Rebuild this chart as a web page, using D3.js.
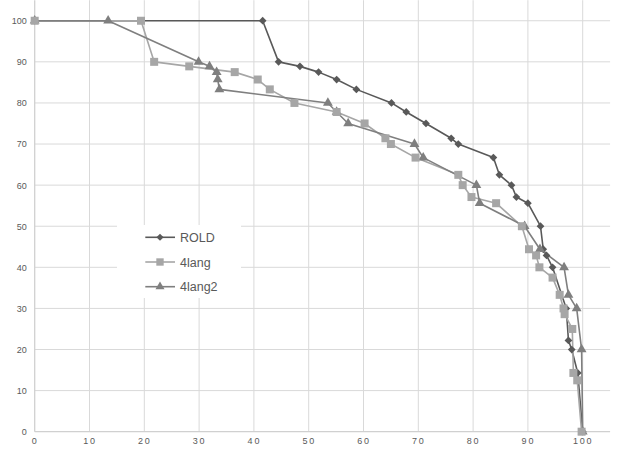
<!DOCTYPE html>
<html><head><meta charset="utf-8">
<script src="https://cdn.jsdelivr.net/npm/d3@7"></script>
<style>
html,body{margin:0;padding:0;background:#fff;}
svg{display:block;}
</style>
</head><body>
<svg id="chart" width="617" height="450"></svg>
<script>
const seriesNames = ["ROLD", "4lang", "4lang2"];
const roldX = [0, 41.6, 44.5, 48.4, 51.8, 55.1, 58.7, 65.1, 67.8, 71.4, 76.0, 77.3, 83.7, 84.8, 87.0, 87.9, 90.0, 92.3, 92.8, 93.4, 94.5, 97.0, 97.4, 98.0, 99.1, 100];
const roldY = [100, 100, 90, 88.9, 87.5, 85.7, 83.3, 80, 77.8, 75, 71.4, 70, 66.7, 62.5, 60, 57.1, 55.6, 50, 44.4, 42.9, 40, 30, 22.2, 20, 14.3, 0];
const lang4X = [0, 19.4, 21.8, 28.2, 36.5, 40.7, 42.9, 47.4, 55.1, 60.2, 64.0, 65.0, 69.5, 77.3, 78.1, 79.7, 84.2, 88.9, 90.2, 91.5, 92.1, 94.5, 95.8, 96.5, 96.7, 98.1, 98.3, 99.0, 99.8];
const lang4Y = [100, 100, 90, 88.9, 87.5, 85.7, 83.3, 80, 77.8, 75, 71.4, 70, 66.7, 62.5, 60, 57.1, 55.6, 50, 44.4, 42.9, 40, 37.5, 33.3, 30, 28.6, 25, 14.3, 12.5, 0];
const lang42X = [0, 13.4, 29.9, 31.9, 33.2, 33.4, 33.7, 53.5, 55.1, 57.2, 69.3, 70.9, 80.6, 81.2, 89.4, 92.2, 96.6, 97.4, 98.9, 99.8, 100];
const lang42Y = [100, 100, 90, 88.9, 87.5, 85.7, 83.3, 80, 77.8, 75, 70, 66.7, 60, 55.6, 50, 44.4, 40, 33.3, 30, 20, 0];
const xTicks = [0, 10, 20, 30, 40, 50, 60, 70, 80, 90, 100];
const yTicks = [0, 10, 20, 30, 40, 50, 60, 70, 80, 90, 100];

const svg = d3.select("#chart");
const pLeft = 34.7, pRight = 610.1, pTop = 0.2, pBottom = 431.7;
const x = d3.scaleLinear().domain([0, 105]).range([pLeft, pRight]);
const y = d3.scaleLinear().domain([0, 105]).range([pBottom, pTop]);

// gridlines
const grid = svg.append("g");
grid.selectAll(".gx").data(xTicks.filter(d => d > 0)).enter().append("line")
  .attr("x1", d => x(d)).attr("x2", d => x(d)).attr("y1", y(0)).attr("y2", pTop)
  .attr("stroke", "#d9d9d9").attr("stroke-width", 1);
grid.selectAll(".gy").data(yTicks.filter(d => d > 0)).enter().append("line")
  .attr("y1", d => y(d)).attr("y2", d => y(d)).attr("x1", pLeft).attr("x2", pRight)
  .attr("stroke", "#d9d9d9").attr("stroke-width", 1);
// axis lines
svg.append("line").attr("x1", x(0)).attr("x2", x(0)).attr("y1", y(0)).attr("y2", pTop)
  .attr("stroke", "#d0d0d0").attr("stroke-width", 1.3);
svg.append("line").attr("x1", pLeft).attr("x2", pRight).attr("y1", y(0)).attr("y2", y(0))
  .attr("stroke", "#d0d0d0").attr("stroke-width", 1.3);

// tick labels
const yAxis = d3.axisLeft(y).tickValues(yTicks).tickSize(0).tickPadding(8);
const gy = svg.append("g").attr("transform", `translate(${pLeft},0)`).call(yAxis);
gy.select(".domain").remove();
gy.selectAll("text").attr("fill", "#595959").style("font-family", "Liberation Sans, Arial, sans-serif").style("font-size", "9px");

const xAxis = d3.axisBottom(x).tickValues(xTicks).tickSize(0).tickPadding(6);
const gx = svg.append("g").attr("transform", `translate(0,${pBottom})`).call(xAxis);
gx.select(".domain").remove();
gx.selectAll("text").attr("fill", "#595959").style("font-family", "Liberation Sans, Arial, sans-serif").style("font-size", "9px").style("letter-spacing", "1.8px");

const series = [
  {name: seriesNames[0], xs: roldX, ys: roldY, color: "#595959", shape: d3.symbolSquare, rot: 45, size: 30, width: 1.6},
  {name: seriesNames[1], xs: lang4X, ys: lang4Y, color: "#a6a6a6", shape: d3.symbolSquare, rot: 0, size: 64, width: 1.6},
  {name: seriesNames[2], xs: lang42X, ys: lang42Y, color: "#7f7f7f", shape: d3.symbolTriangle, rot: 0, size: 42, width: 1.6}
];
series.forEach(s => { s.pts = s.xs.map((v, i) => [v, s.ys[i]]); });

const line = d3.line().x(d => x(d[0])).y(d => y(d[1]));
series.forEach(s => {
  svg.append("path").datum(s.pts).attr("d", line).attr("fill", "none")
    .attr("stroke", s.color).attr("stroke-width", s.width).attr("stroke-linejoin", "round");
});
[series[0], series[2], series[1]].forEach(s => {
  svg.append("g").selectAll("path").data(s.pts).enter().append("path")
    .attr("d", d3.symbol().type(s.shape).size(s.size))
    .attr("transform", d => `translate(${x(d[0])},${y(d[1])}) rotate(${s.rot})`)
    .attr("fill", s.color);
});

// legend
const lg = svg.append("g");
lg.append("rect").attr("x", 117).attr("y", 225).attr("width", 124).attr("height", 73).attr("fill", "#fff");
const legY = [237.3, 262, 286.7];
series.forEach((s, i) => {
  lg.append("line").attr("x1", 145.3).attr("x2", 175).attr("y1", legY[i]).attr("y2", legY[i])
    .attr("stroke", s.color).attr("stroke-width", s.width);
  lg.append("path").attr("d", d3.symbol().type(s.shape).size(s.size * 0.85))
    .attr("transform", `translate(160,${legY[i]}) rotate(${s.rot})`).attr("fill", s.color);
  lg.append("text").attr("x", 180).attr("y", legY[i]).attr("dy", "0.36em")
    .attr("fill", "#595959").style("font-family", "Liberation Sans, Arial, sans-serif").style("font-size", "12.5px")
    .text(s.name);
});
</script>
</body></html>
